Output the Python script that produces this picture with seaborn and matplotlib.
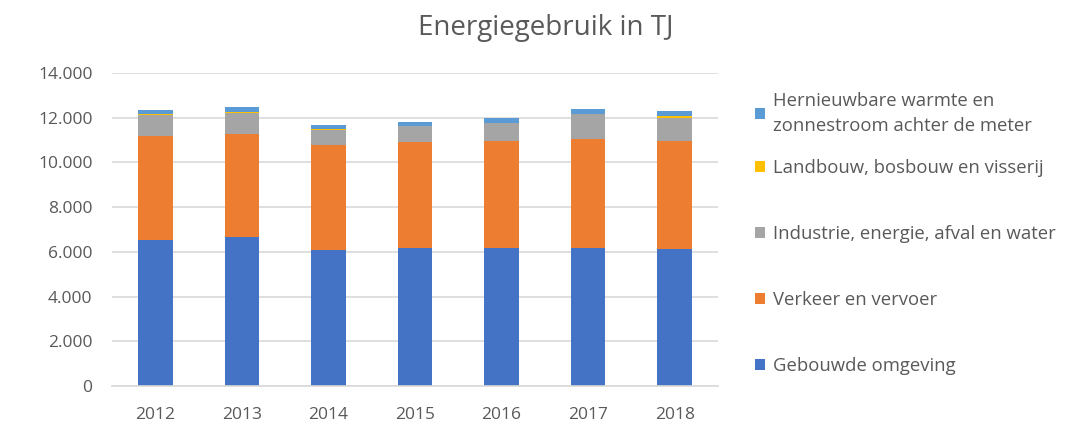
"""Energiegebruik in TJ: gestapelde staafgrafiek per sector (2012-2018)."""

import numpy as np
import pandas as pd
import seaborn as sns
from matplotlib import pyplot as plt
from matplotlib.patches import Patch
from matplotlib.ticker import FuncFormatter

jaren = ["2012", "2013", "2014", "2015", "2016", "2017", "2018"]

gebouwde_omgeving = [6520, 6650, 6100, 6180, 6190, 6190, 6120]
verkeer_vervoer = [4660, 4620, 4680, 4730, 4780, 4860, 4820]
industrie = [940, 950, 680, 700, 780, 1100, 1030]
landbouw = [30, 30, 30, 30, 30, 30, 100]
hernieuwbaar = [200, 220, 180, 180, 200, 210, 230]

sectoren = [
    "Gebouwde omgeving",
    "Verkeer en vervoer",
    "Industrie, energie, afval en water",
    "Landbouw, bosbouw en visserij",
    "Hernieuwbare warmte en\nzonnestroom achter de meter",
]
kleuren = ["#4472C4", "#ED7D31", "#A5A5A5", "#FFC000", "#5B9BD5"]

df = pd.DataFrame(
    {
        "Jaar": jaren,
        sectoren[0]: gebouwde_omgeving,
        sectoren[1]: verkeer_vervoer,
        sectoren[2]: industrie,
        sectoren[3]: landbouw,
        sectoren[4]: hernieuwbaar,
    }
)

# cumulatieve sommen, zodat de lagen van boven naar beneden over elkaar getekend worden
cumulatief = df[sectoren].cumsum(axis=1)

sns.set_style("white")
plt.rcParams["font.family"] = ["Open Sans", "DejaVu Sans"]

fig = plt.figure(figsize=(10.74, 4.25), dpi=100)
ax = fig.add_axes([0.1043, 0.0918, 0.5642, 0.7364])

for sector, kleur in reversed(list(zip(sectoren, kleuren))):
    sns.barplot(
        x=df["Jaar"],
        y=cumulatief[sector],
        color=kleur,
        width=0.4,
        linewidth=0,
        saturation=1,
        ax=ax,
    )

ax.set_ylim(0, 14000)
ax.set_yticks(np.arange(0, 14001, 2000))
ax.yaxis.set_major_formatter(FuncFormatter(lambda v, _: f"{v:,.0f}".replace(",", ".")))
ax.grid(axis="y", color="#D9D9D9", linewidth=1.2)
ax.set_axisbelow(True)
ax.set_xlabel("")
ax.set_ylabel("")
for kant in ["top", "right", "left"]:
    ax.spines[kant].set_visible(False)
ax.spines["bottom"].set_color("#D9D9D9")
ax.spines["bottom"].set_linewidth(1.2)
ax.tick_params(axis="both", length=0, labelsize=12.5, labelcolor="#595959")
ax.tick_params(axis="y", pad=14)
ax.tick_params(axis="x", pad=15)

fig.text(0.508, 0.934, "Energiegebruik in TJ", ha="center", va="center",
         fontsize=20, color="#595959")

# legenda in twee delen: de tweeregelige post bovenaan staat dichter bij de rest
legenda_stijl = dict(
    loc="upper left",
    frameon=False,
    fontsize=13.3,
    labelcolor="#595959",
    handlelength=0.55,
    handleheight=0.55,
    handletextpad=0.45,
    borderpad=0,
    borderaxespad=0,
)
leg_boven = fig.legend(
    [Patch(facecolor=kleuren[4], edgecolor="none")],
    [sectoren[4]],
    bbox_to_anchor=(0.703, 0.783),
    **legenda_stijl,
)
for t in leg_boven.get_texts():
    t.set_linespacing(1.45)

handles = [Patch(facecolor=k, edgecolor="none") for k in kleuren[:4]][::-1]
fig.legend(
    handles,
    sectoren[:4][::-1],
    bbox_to_anchor=(0.703, 0.625),
    labelspacing=2.6,
    **legenda_stijl,
)

fig.savefig("out.png", dpi=100)
